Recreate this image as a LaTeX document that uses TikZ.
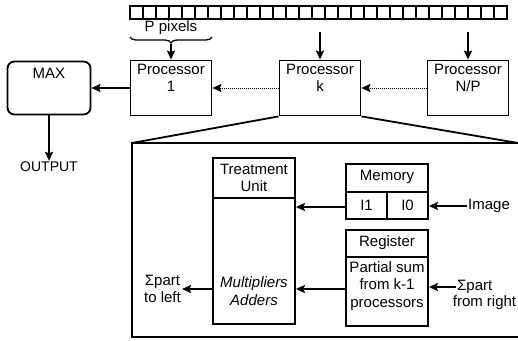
\documentclass[tikz,border=0pt]{standalone}
\usepackage{fontspec}
\setmainfont{Liberation Sans}
\usetikzlibrary{arrows.meta, calc, positioning, decorations.pathreplacing}

\tikzset{
  box/.style={draw, line width=1.8pt, minimum width=81pt, minimum height=55pt, inner sep=0pt},
  lbl/.style={font=\fontsize{15}{17.5}\selectfont, align=center, inner sep=1pt},
  arr/.style={line width=1.8pt, -{Stealth[length=9pt, width=8pt, inset=1.5pt]}},
  dotarr/.style={line width=1pt, densely dotted, -{Stealth[length=9pt, width=8pt, inset=1.5pt]}},
  edge/.style={line width=1.8pt},
}

\begin{document}
\begin{tikzpicture}[x=1pt, y=-1pt]

\useasboundingbox (0,0) rectangle (518,340);

% Pixel strip
\foreach \i in {0,...,28} {
  \draw[line width=1.4pt] ({130+13*\i},6) rectangle ++(13,13);
}

% Brace over P pixels
\node[lbl] (ppix) at (171,28) {P pixels};
\draw[line width=1.3pt, decorate, decoration={brace, mirror, amplitude=6pt}]
  (130,37) -- (212,37);
\coordinate (brtip) at (171,44);

% Processors
\node[box] (p1) at (171,88) {};
\node[lbl, below=3pt of p1.north] (p1t) {Processor\\1};
\node[box] (pk) at (320,88) {};
\node[lbl, below=3pt of pk.north] (pkt) {Processor\\k};
\node[box] (pnp) at (468,88) {};
\node[lbl, below=3pt of pnp.north] (pnpt) {Processor\\N/P};

% MAX and output
\node[box, minimum width=83pt, minimum height=53pt, rounded corners=7pt] (max) at (49,88) {};
\node[lbl, below=6pt of max.north] (maxt) {MAX};
\node[lbl, font=\fontsize{14}{16}\selectfont] (out) at (49,167) {OUTPUT};

% Inputs from the strip
\coordinate (ink) at (320,32);
\coordinate (innp) at (468,32);
\draw[arr] (brtip) -- (p1.north);
\draw[arr] (ink) -- (pk.north);
\draw[arr] (innp) -- (pnp.north);

% Chain of partial results
\draw[dotarr] (pnp.west) -- (pk.east);
\draw[dotarr] (pk.west) -- (p1.east);
\draw[arr] (p1.west) -- (max.east |- p1.west);
\draw[arr] (max.south) -- (out.north);

% Zoom on processor k
\coordinate (ztl) at (132,143);
\coordinate (ztr) at (518,143);
\coordinate (zbl) at (132,337);
\coordinate (zbr) at (518,337);
\draw[edge] (pk.south west) -- (ztl);
\draw[edge] (pk.south east) -- (ztr);
\draw[edge] (ztr) -- (ztl) -- (zbl) -- (zbr);

% Treatment unit
\node[box, minimum width=82pt, minimum height=166pt] (tu) at (254,241) {};
\draw[edge] (tu.west |- 0,198) -- (tu.east |- 0,198);
\node[lbl] (tut) at (254,178) {Treatment\\Unit};
\node[lbl, font=\fontsize{15}{17.5}\selectfont\itshape] (mul) at (254,291) {Multipliers\\Adders};

% Memory
\node[box, minimum width=82pt, minimum height=55pt] (mem) at (387,191.5) {};
\draw[edge] (mem.west |- 0,192) -- (mem.east |- 0,192);
\draw[edge] (mem.south) -- (387,192);
\node[lbl] (memt) at (387,177) {Memory};
\node[lbl] (ione) at (366.5,205.5) {I1};
\node[lbl] (izero) at (407.5,205.5) {I0};

% Register
\node[box, minimum width=82pt, minimum height=96pt] (reg) at (387,278) {};
\draw[edge] (reg.west |- 0,257) -- (reg.east |- 0,257);
\node[lbl] (regt) at (387,243) {Register};
\node[lbl] (psum) at (387,286) {Partial sum\\from k-1\\processors};

% Data paths
\node[lbl, anchor=west] (img) at (467,206) {Image};
\draw[arr] (img.west) -- (mem.east |- img.west);
\draw[arr] (mem.west |- 0,207) -- (tu.east |- 0,207);

\node[lbl, anchor=west] (sumr) at (456,287) {Σpart};
\node[lbl] (fromr) at (484.5,303) {from right};
\draw[arr] (sumr.west) -- (reg.east |- sumr.west);
\draw[arr] (reg.west |- 0,289) -- (tu.east |- 0,289);

\node[lbl, anchor=east] (suml) at (182,289) {Σpart\\to left};
\draw[arr] (tu.west |- suml.east) -- (suml.east);

\end{tikzpicture}
\end{document}
